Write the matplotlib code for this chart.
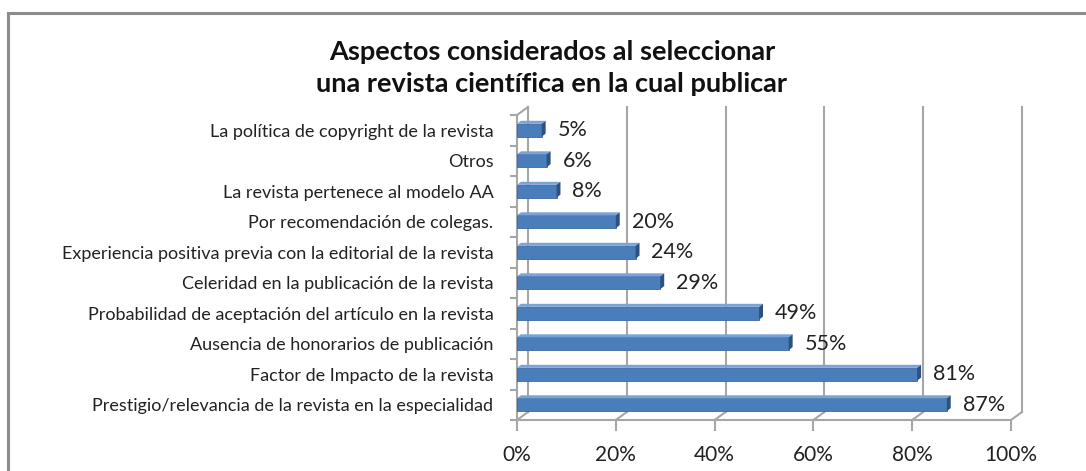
import matplotlib.pyplot as plt
from matplotlib.patches import Polygon, Rectangle

categorias = [
    "Prestigio/relevancia de la revista en la especialidad",
    "Factor de Impacto de la revista",
    "Ausencia de honorarios de publicación",
    "Probabilidad de aceptación del artículo en la revista",
    "Celeridad en la publicación de la revista",
    "Experiencia positiva previa con la editorial de la revista",
    "Por recomendación de colegas.",
    "La revista pertenece al modelo AA",
    "Otros",
    "La política de copyright de la revista",
]
valores = [87, 81, 55, 49, 29, 24, 20, 8, 6, 5]
xticks = [0, 20, 40, 60, 80, 100]
titulo = "Aspectos considerados al seleccionar\nuna revista científica en la cual publicar"

plt.rcParams['font.family'] = ['Lato', 'DejaVu Sans']

fig = plt.figure(figsize=(10.86, 4.71), dpi=100)
ax = fig.add_axes([517 / 1086, 51 / 471, 494 / 1086, 305 / 471])

# chart border
fig.patches.append(Rectangle((8 / 1086, -0.1), 1.2, 1.1 - 13 / 471,
                             transform=fig.transFigure, fill=False,
                             edgecolor='#8c8c8c', lw=2.2))

n = len(categorias)
ax.set_xlim(0, 100)
ax.set_ylim(-0.5, n - 0.5)

# 3d depth offsets (data units)
dx = 11 / 494 * 100
dy = 8 / 305 * n
gc = '#a6a6a6'

# back wall grid lines + floor diagonals
for x in xticks:
    ax.plot([x + dx, x + dx], [-0.5 + dy, n - 0.5 + dy], color=gc, lw=1.5, clip_on=False, zorder=1)
    ax.plot([x, x + dx], [-0.5, -0.5 + dy], color=gc, lw=1.5, clip_on=False, zorder=1)
# left wall
ax.plot([0, 0], [-0.5, n - 0.5], color=gc, lw=1.5, clip_on=False, zorder=1)
ax.plot([0, dx], [n - 0.5, n - 0.5 + dy], color=gc, lw=1.5, clip_on=False, zorder=1)
# floor front edge
ax.plot([0, 100], [-0.5, -0.5], color=gc, lw=1.5, clip_on=False, zorder=1)

# bars
h = 0.42
bdx = 0.8
bdy = 0.1
ys = list(range(n))
ax.barh(ys, valores, height=h, color='#4a7ebb', edgecolor='#3a6aa4', lw=0.6, zorder=3)
for y, v in zip(ys, valores):
    top = Polygon([(0, y + h / 2), (v, y + h / 2), (v + bdx, y + h / 2 + bdy), (bdx, y + h / 2 + bdy)],
                  closed=True, facecolor='#7ba3d6', edgecolor='none', zorder=3, clip_on=False)
    side = Polygon([(v, y - h / 2), (v + bdx, y - h / 2 + bdy), (v + bdx, y + h / 2 + bdy), (v, y + h / 2)],
                   closed=True, facecolor='#2c5283', edgecolor='none', zorder=3, clip_on=False)
    ax.add_patch(top)
    ax.add_patch(side)
    ax.text(v + 3.2, y, f"{v}%", va='center', ha='left', fontsize=15.5, color='#222222', zorder=4)

for s in ax.spines.values():
    s.set_visible(False)

ax.set_yticks(ys)
ax.set_yticklabels(categorias, fontsize=13, color='#222222')
ax.set_yticks([y - 0.5 for y in range(n + 1)], minor=True)
ax.tick_params(axis='y', which='major', length=0, pad=17)
ax.tick_params(axis='y', which='minor', length=5, color=gc, width=1.5, direction='out')

ax.set_xticks(xticks)
ax.set_xticklabels([f"{x}%" for x in xticks], fontsize=15, color='#222222')
ax.tick_params(axis='x', length=8, color=gc, width=1.5, direction='out', pad=10)

fig.text(552 / 1086, 1 - 68 / 471, titulo, ha='center', va='center', fontsize=19.5,
         fontweight='bold', linespacing=1.38, color='#111111')

fig.savefig('out.png', dpi=100)
